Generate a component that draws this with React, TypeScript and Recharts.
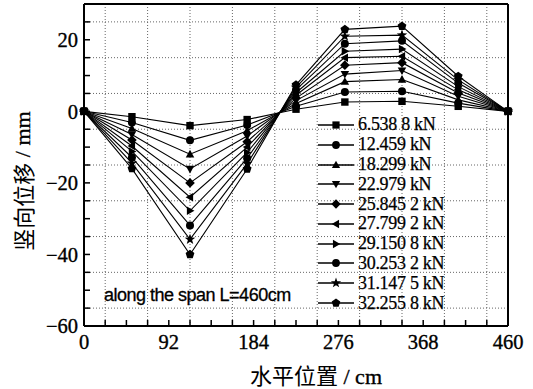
import { LineChart, Line, XAxis, YAxis, ReferenceLine, Legend } from 'recharts'

// horizontal position of the gauges along the span (cm)
const positions = [0, 52, 115, 177, 230, 283, 345, 406, 460]

const loads = [
  '6.538 8 kN', '12.459 kN', '18.299 kN', '22.979 kN', '25.845 2 kN',
  '27.799 2 kN', '29.150 8 kN', '30.253 2 kN', '31.147 5 kN', '32.255 8 kN',
]
const shapes = ['square', 'circle', 'up', 'down', 'diamond', 'left', 'right', 'circle', 'star', 'pentagon']

// vertical displacement (mm) per load step
const s1 = [0, -1.5, -4.0, -2.3, 0.6, 2.6, 2.8, 1.4, 0]
const s2 = [0, -3.1, -8.1, -3.8, 1.4, 5.4, 5.6, 2.3, 0]
const s3 = [0, -4.8, -12.0, -5.4, 2.2, 8.3, 8.9, 3.2, 0]
const s4 = [0, -6.5, -16.1, -6.9, 3.0, 10.4, 11.4, 4.2, 0]
const s5 = [0, -8.0, -20.0, -8.5, 3.7, 12.9, 13.6, 5.1, 0]
const s6 = [0, -9.7, -24.0, -10.0, 4.5, 15.0, 15.4, 6.0, 0]
const s7 = [0, -11.2, -27.8, -11.5, 5.2, 16.8, 17.4, 6.9, 0]
const s8 = [0, -12.9, -31.9, -13.1, 6.0, 18.9, 19.7, 7.9, 0]
const s9 = [0, -14.5, -35.8, -14.6, 6.7, 21.0, 21.3, 8.8, 0]
const s10 = [0, -16.0, -40.0, -16.1, 7.4, 22.9, 23.8, 9.8, 0]
const series = [s1, s2, s3, s4, s5, s6, s7, s8, s9, s10]

const xTicks = [0, 23, 46, 69, 92, 115, 138, 161, 184, 207, 230, 253, 276, 299, 322, 345, 368, 391, 414, 437, 460]
const yTicks = [-60, -55, -50, -45, -40, -35, -30, -25, -20, -15, -10, -5, 0, 5, 10, 15, 20, 25, 30]
const gridX = [23, 69, 115, 161, 207, 253, 299, 345, 391, 437]
const gridY = [25, 15, 5, -5, -15, -25, -35, -45, -55]

const rows = positions.map((x, i) => {
  const row: Record<string, number> = { x }
  series.forEach((s, k) => { row['s' + (k + 1)] = s[i] })
  return row
})

const serif = '"Liberation Serif", "Times New Roman", serif'
const fmt = (v: number) => (v < 0 ? '\u2212' + Math.abs(v) : String(v))

function polyPoints(cx: number, cy: number, n: number, rOut: number, rIn?: number) {
  const pts: string[] = []
  const count = rIn ? n * 2 : n
  for (let i = 0; i < count; i++) {
    const a = -Math.PI / 2 + (i * 2 * Math.PI) / count
    const rr = rIn && i % 2 === 1 ? rIn : rOut
    pts.push(`${cx + rr * Math.cos(a)},${cy + rr * Math.sin(a)}`)
  }
  return pts.join(' ')
}

function Marker({ shape, cx, cy, r = 3.7 }: { shape: string; cx: number; cy: number; r?: number }) {
  if (cx == null || cy == null) return null
  const f = '#000'
  switch (shape) {
    case 'square':
      return <rect x={cx - r} y={cy - r} width={2 * r} height={2 * r} fill={f} />
    case 'circle':
      return <circle cx={cx} cy={cy} r={r + 0.3} fill={f} />
    case 'up':
      return <polygon points={`${cx},${cy - r * 1.2} ${cx + r * 1.15},${cy + r * 0.85} ${cx - r * 1.15},${cy + r * 0.85}`} fill={f} />
    case 'down':
      return <polygon points={`${cx},${cy + r * 1.2} ${cx + r * 1.15},${cy - r * 0.85} ${cx - r * 1.15},${cy - r * 0.85}`} fill={f} />
    case 'diamond':
      return <polygon points={`${cx},${cy - r * 1.3} ${cx + r * 1.3},${cy} ${cx},${cy + r * 1.3} ${cx - r * 1.3},${cy}`} fill={f} />
    case 'left':
      return <polygon points={`${cx - r * 1.2},${cy} ${cx + r * 0.85},${cy - r * 1.15} ${cx + r * 0.85},${cy + r * 1.15}`} fill={f} />
    case 'right':
      return <polygon points={`${cx + r * 1.2},${cy} ${cx - r * 0.85},${cy - r * 1.15} ${cx - r * 0.85},${cy + r * 1.15}`} fill={f} />
    case 'star':
      return <polygon points={polyPoints(cx, cy, 5, r * 1.5, r * 0.6)} fill={f} />
    case 'pentagon':
      return <polygon points={polyPoints(cx, cy, 5, r * 1.25)} fill={f} />
    default:
      return null
  }
}

function XTick(props: any) {
  const { x, y, payload } = props
  const v = payload.value
  return (
    <g>
      <line x1={x} y1={y} x2={x} y2={y - 6} stroke="#000" strokeWidth={1.5} />
      {v % 92 === 0 && (
        <text x={x} y={y + 23} textAnchor="middle" fontFamily={serif} fontSize={20.5} fill="#000" stroke="#000" strokeWidth={0.35}>{v}</text>
      )}
    </g>
  )
}

function YTick(props: any) {
  const { x, y, payload } = props
  const v = payload.value
  return (
    <g>
      <line x1={x} y1={y} x2={x + 6} y2={y} stroke="#000" strokeWidth={1.5} />
      {v % 20 === 0 && v !== 30 && (
        <text x={x - 6} y={y} dy="0.35em" textAnchor="end" fontFamily={serif} fontSize={20.5} fill="#000" stroke="#000" strokeWidth={0.35}>{fmt(v)}</text>
      )}
    </g>
  )
}

function LegendBox() {
  return (
    <div style={{ fontFamily: serif, fontSize: 18, color: '#000', WebkitTextStroke: '0.25px #000' }}>
      {loads.map((name, k) => (
        <div key={name} style={{ display: 'flex', alignItems: 'center', height: 19.8 }}>
          <svg width={40} height={20} style={{ display: 'block' }}>
            <line x1={0} y1={10} x2={36} y2={10} stroke="#000" strokeWidth={1.6} />
            <Marker shape={shapes[k]} cx={18} cy={10} r={3.6} />
          </svg>
          <span style={{ whiteSpace: 'nowrap', letterSpacing: -0.3 }}>{name}</span>
        </div>
      ))}
    </div>
  )
}

export default function App() {
  return (
    <div style={{ position: 'absolute', left: 0, top: 0, width: 533, height: 389, background: '#fff' }}>
      <LineChart width={533} height={389} data={rows} margin={{ top: 4, right: 25, bottom: 0, left: 0 }}>
        {gridX.map((v) => (
          <ReferenceLine key={'gx' + v} x={v} stroke="#666" strokeDasharray="1 2" strokeWidth={1} />
        ))}
        {gridY.map((v) => (
          <ReferenceLine key={'gy' + v} y={v} stroke="#666" strokeDasharray="1 2" strokeWidth={1} />
        ))}
        <ReferenceLine x={460} stroke="#000" strokeWidth={2} />
        <ReferenceLine y={30} stroke="#000" strokeWidth={2} />
        <XAxis
          dataKey="x"
          type="number"
          domain={[0, 460]}
          ticks={xTicks}
          interval={0}
          height={63}
          tickSize={0}
          tickMargin={0}
          tickLine={false}
          axisLine={{ stroke: '#000', strokeWidth: 2 }}
          tick={XTick}
          label={{
            content: (p: any) => {
              const vb = p.viewBox
              return (
                <text x={vb.x + vb.width / 2 + 20} y={vb.y + 58} textAnchor="middle" fontSize={22} fill="#000">
                  <tspan fontFamily='"Noto Sans CJK SC"'>水平位置</tspan>
                  <tspan fontFamily={serif} stroke="#000" strokeWidth={0.35}> / cm</tspan>
                </text>
              )
            },
          }}
        />
        <YAxis
          type="number"
          domain={[-60, 30]}
          ticks={yTicks}
          interval={0}
          width={84}
          tickSize={0}
          tickMargin={0}
          tickLine={false}
          axisLine={{ stroke: '#000', strokeWidth: 2 }}
          tick={YTick}
          label={{
            content: (p: any) => {
              const vb = p.viewBox
              const cx = 22
              const cy = vb.y + vb.height / 2 + 16
              return (
                <text x={cx} y={cy} transform={`rotate(-90, ${cx}, ${cy})`} textAnchor="middle" dominantBaseline="central" fontSize={22} fill="#000">
                  <tspan fontFamily='"Noto Sans CJK SC"'>竖向位移</tspan>
                  <tspan fontFamily={serif} stroke="#000" strokeWidth={0.35}> / mm</tspan>
                </text>
              )
            },
          }}
        />
        {series.map((_, k) => (
          <Line
            key={k}
            dataKey={'s' + (k + 1)}
            name={loads[k]}
            stroke="#000"
            strokeWidth={1.1}
            isAnimationActive={false}
            dot={(p: any) => <Marker key={`d${k}-${p.index}`} shape={shapes[k]} cx={p.cx} cy={p.cy} />}
            activeDot={false}
          />
        ))}
        <Legend
          layout="vertical"
          align="center"
          verticalAlign="middle"
          wrapperStyle={{ left: 318, top: 115, width: 190 }}
          content={() => <LegendBox />}
        />
      </LineChart>
      <div
        style={{
          position: 'absolute', left: 104, top: 285, fontFamily: '"Liberation Sans", Arial, sans-serif',
          fontSize: 18, color: '#000', whiteSpace: 'nowrap', letterSpacing: -0.5, WebkitTextStroke: '0.3px #000',
        }}
      >
        along the span L=460cm
      </div>
    </div>
  )
}
